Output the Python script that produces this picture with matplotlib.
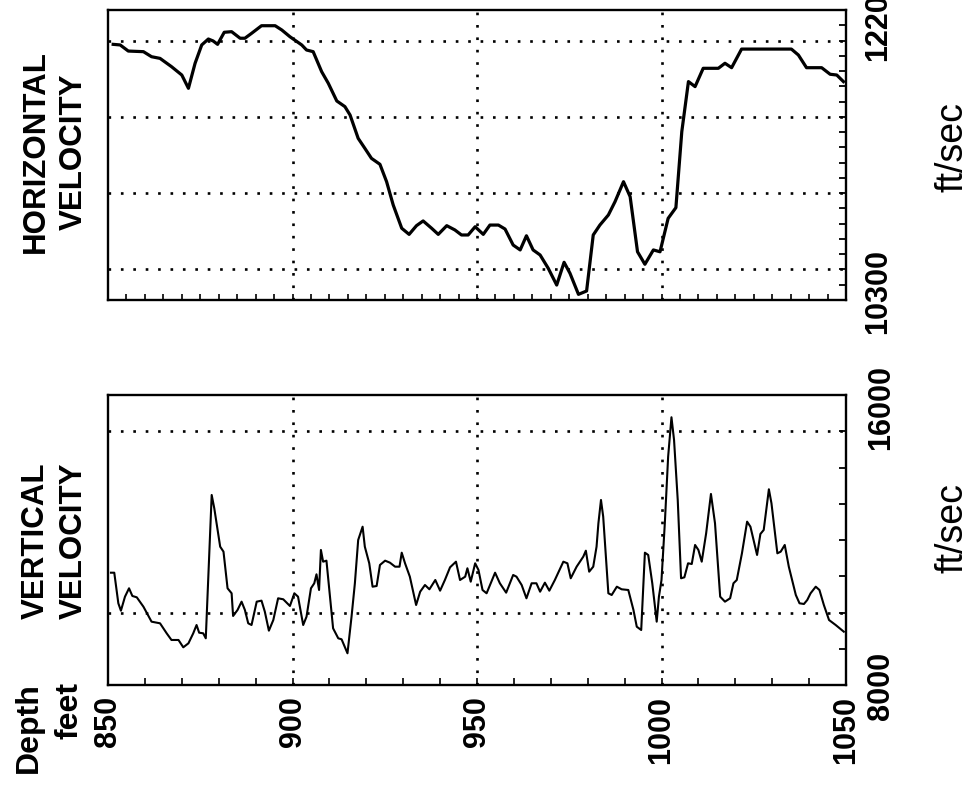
import matplotlib
matplotlib.use("Agg")
import matplotlib.pyplot as plt
from matplotlib.ticker import MultipleLocator, NullFormatter

plt.rcParams['font.family'] = ['Liberation Sans', 'DejaVu Sans']

# ---------------- data ----------------
depth_ticks = [850, 900, 950, 1000, 1050]
depth_tick_labels = ["850", "900", "950", "1000", "1050"]
grid_depths = [900, 950, 1000]
h_grid = [10500, 11000, 11500, 12000]
v_grid = [10000, 15000]
h_range = [10300, 12200]
v_range = [8000, 16000]

h_depth = [851.4, 853.3, 855.5, 859.6, 861.8, 864.1, 867.2, 870.0, 871.8, 873.6,
           875.4, 877.2, 878.5, 879.7, 881.5, 883.5, 885.8, 887.1, 888.9, 891.6,
           895.3, 897.1, 899.3, 902.5, 903.8, 905.6, 907.9, 909.7, 912.0, 914.2,
           915.6, 917.8, 919.6, 921.4, 923.7, 925.5, 927.3, 929.6, 931.6, 933.6,
           935.4, 937.7, 939.5, 941.8, 944.0, 945.8, 947.6, 949.5, 951.7, 953.5,
           955.8, 957.6, 959.8, 961.7, 963.4, 965.2, 967.1, 969.3, 971.6, 973.6,
           975.2, 977.5, 979.7, 981.5, 983.3, 985.6, 987.4, 989.7, 991.5, 993.5,
           995.5, 997.8, 999.6, 1001.8, 1003.9, 1005.5, 1007.3, 1009.1, 1011.3, 1015.4,
           1017.2, 1019.0, 1021.7, 1035.2, 1037.1, 1039.3, 1043.4, 1045.7, 1047.5, 1049.3]
h_vel = [11975, 11971, 11931, 11927, 11894, 11883, 11829, 11774, 11687, 11851,
         11971, 12010, 11997, 11975, 12054, 12058, 12015, 12015, 12047, 12097,
         12097, 12069, 12025, 11971, 11938, 11927, 11796, 11720, 11604, 11567,
         11512, 11359, 11294, 11228, 11189, 11075, 10922, 10770, 10730, 10787,
         10818, 10770, 10730, 10787, 10759, 10726, 10726, 10780, 10730, 10791,
         10791, 10765, 10660, 10628, 10721, 10628, 10595, 10508, 10398, 10547,
         10475, 10337, 10359, 10726, 10791, 10857, 10944, 11075, 10977, 10616,
         10534, 10628, 10616, 10835, 10905, 11403, 11731, 11698, 11818, 11818,
         11851, 11822, 11944, 11944, 11905, 11822, 11822, 11779, 11774, 11731]

v_depth = [850.8, 851.7, 852.8, 853.5, 854.6, 855.7, 856.6, 857.8, 859.6, 861.8,
           864.1, 865.9, 867.2, 869.1, 870.4, 871.8, 873.1, 874.0, 874.7, 875.8,
           876.5, 877.2, 878.1, 878.8, 880.4, 881.3, 882.4, 883.5, 883.9, 885.1,
           886.2, 887.1, 888.0, 888.9, 890.3, 891.6, 892.5, 893.6, 894.8, 896.1,
           897.5, 899.3, 900.5, 901.5, 902.9, 903.8, 905.0, 905.9, 906.5, 907.2,
           907.7, 908.3, 909.2, 911.0, 912.4, 913.3, 914.9, 916.0, 916.9, 917.8,
           919.0, 919.6, 920.8, 921.7, 922.8, 923.7, 925.1, 926.4, 927.8, 929.0,
           929.6, 930.5, 931.8, 933.5, 934.6, 935.9, 937.1, 938.7, 940.0, 941.3,
           942.7, 944.3, 945.4, 946.8, 947.4, 948.3, 949.5, 950.4, 951.5, 952.6,
           954.9, 956.2, 957.9, 959.8, 960.7, 962.1, 963.4, 964.8, 966.1, 967.1,
           968.4, 969.6, 971.1, 973.4, 974.5, 975.4, 977.0, 978.8, 979.5, 980.4,
           981.5, 982.4, 982.9, 983.6, 984.2, 985.6, 986.5, 987.9, 989.2, 991.0,
           992.4, 993.3, 994.5, 995.5, 996.4, 997.5, 998.7, 999.3, 1000.0, 1000.9,
           1001.8, 1002.7, 1003.4, 1004.4, 1005.3, 1006.2, 1007.2, 1008.2, 1009.1, 1010.0,
           1010.9, 1012.1, 1013.4, 1014.5, 1015.9, 1017.2, 1018.6, 1019.5, 1020.4, 1021.8,
           1023.2, 1024.1, 1025.9, 1026.8, 1027.7, 1028.4, 1029.1, 1029.8, 1031.4, 1032.3,
           1033.4, 1034.5, 1036.4, 1037.4, 1038.6, 1039.5, 1040.4, 1041.8, 1042.8, 1044.0,
           1045.4, 1047.2, 1049.4]
v_vel = [11098, 11098, 10254, 10050, 10436, 10668, 10456, 10419, 10160, 9747,
         9702, 9426, 9242, 9242, 9040, 9150, 9426, 9655, 9443, 9426,
         9288, 10988, 13242, 12876, 11816, 11678, 10668, 10530, 9904, 10069,
         10299, 10069, 9702, 9655, 10299, 10327, 10023, 9499, 9793, 10392,
         10364, 10180, 10530, 10436, 9655, 9885, 10668, 10806, 11054, 10621,
         11725, 11402, 11430, 9564, 9288, 9261, 8875, 9885, 10800, 12000,
         12367, 11816, 11357, 10712, 10731, 11311, 11430, 11375, 11264, 11264,
         11650, 11357, 10988, 10207, 10574, 10759, 10640, 10897, 10602, 10897,
         11247, 11402, 10897, 10988, 11220, 10850, 11357, 11173, 10621, 10530,
         11098, 10806, 10547, 11035, 10988, 10759, 10392, 10806, 10806, 10574,
         10823, 10602, 10897, 11402, 11357, 10944, 11264, 11540, 11705, 11126,
         11264, 11816, 12461, 13104, 12644, 10530, 10483, 10712, 10640, 10621,
         10069, 9608, 9517, 11650, 11587, 10806, 9747, 10436, 10897, 12461,
         14299, 15386, 14760, 13104, 10944, 10971, 11357, 11338, 11863, 11725,
         11402, 12185, 13270, 12461, 10436, 10299, 10392, 10806, 10897, 11633,
         12506, 12367, 11587, 12166, 12277, 12828, 13399, 13013, 11633, 11678,
         11863, 11264, 10483, 10254, 10235, 10345, 10530, 10712, 10621, 10207,
         9793, 9655, 9471]

# ---------------- figure ----------------
W, H = 980, 793
fig = plt.figure(figsize=(W / 100, H / 100), dpi=100)

def frac(x, y):
    return x / W, 1 - y / H

left = 108 / W
width = (846 - 108) / W
ph = 290 / H
ax1 = fig.add_axes([left, 1 - 300 / H, width, ph])
ax2 = fig.add_axes([left, 1 - 685 / H, width, ph])

dot = (0, (1, 3.7))
for ax, yr, yg, ystep, xstep in [(ax1, h_range, h_grid, 100, 5),
                                 (ax2, v_range, v_grid, 1000, 10)]:
    ax.set_xlim(depth_ticks[0], depth_ticks[-1])
    ax.set_ylim(yr[0], yr[1])
    for g in grid_depths:
        ax.axvline(g, color='black', lw=1.9, ls=dot, zorder=1)
    for g in yg:
        ax.axhline(g, color='black', lw=1.9, ls=dot, zorder=1)
    for s in ax.spines.values():
        s.set_linewidth(1.7)
    ax.yaxis.set_major_locator(MultipleLocator(ystep))
    ax.yaxis.set_major_formatter(NullFormatter())
    ax.tick_params(axis='y', which='both', direction='in', left=False, right=True,
                   labelleft=False, labelright=False, length=5, width=1.3)
    ax.xaxis.set_minor_locator(MultipleLocator(xstep))

ax1.set_xticks(depth_ticks)
ax1.xaxis.set_major_formatter(NullFormatter())
ax1.tick_params(axis='x', which='both', direction='in', bottom=True, top=False,
                labelbottom=False, length=4, width=1.2)

ax2.set_xticks(depth_ticks, depth_tick_labels)
ax2.tick_params(axis='x', which='both', direction='in', bottom=True, top=False,
                length=5, width=1.2, pad=8)
for lab in ax2.get_xticklabels():
    lab.set_rotation(90)
    lab.set_fontsize(22)
    lab.set_fontweight('bold')

ax1.plot(h_depth, h_vel, color='black', lw=2.3, zorder=3)
ax2.plot(v_depth, v_vel, color='black', lw=1.5, zorder=3)

# ---------------- texts ----------------
big = dict(rotation=90, fontsize=22.5, fontweight='bold', ha='center', va='center',
           multialignment='center', linespacing=1.35)
fig.text(*frac(55, 152), "HORIZONTAL\nVELOCITY", **big)
fig.text(*frac(55, 541), "VERTICAL\nVELOCITY", **big)
fig.text(*frac(49, 682), "Depth\nfeet", rotation=90, fontsize=23, fontweight='bold',
         ha='center', va='top', multialignment='right', linespacing=1.45)

lab = dict(rotation=90, fontsize=22, fontweight='bold', ha='center', va='center')
fig.text(*frac(878, 19), f"{h_range[1]}", **lab)
fig.text(*frac(878, 291), f"{h_range[0]}", **lab)
fig.text(*frac(881, 408), f"{v_range[1]}", **lab)
fig.text(*frac(881, 686), f"{v_range[0]}", **lab)

unit = dict(rotation=90, fontsize=27, ha='center', va='center')
fig.text(*frac(952, 147), "ft/sec", **unit)
fig.text(*frac(952, 528), "ft/sec", **unit)

fig.savefig("out.png", dpi=100)
